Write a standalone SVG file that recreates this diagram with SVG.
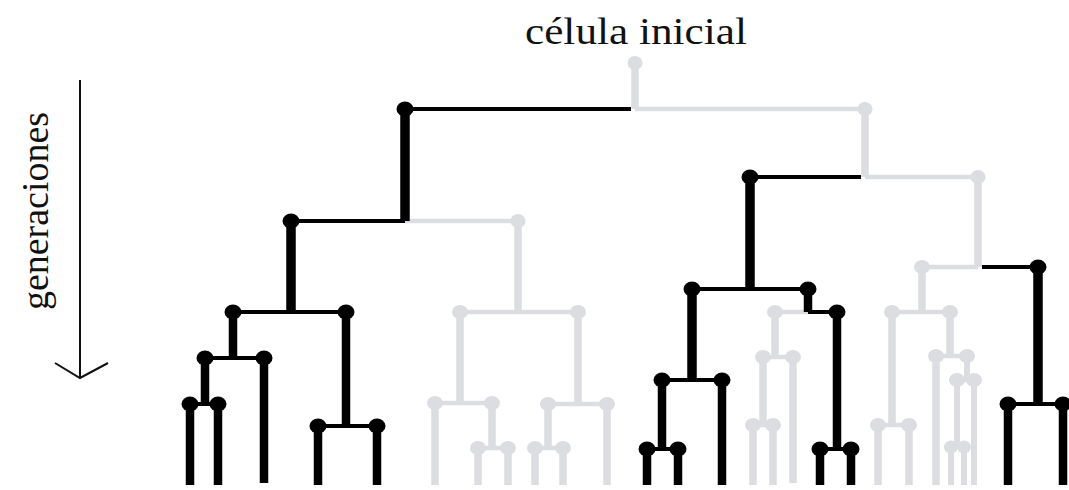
<svg xmlns="http://www.w3.org/2000/svg" width="1069" height="490" viewBox="0 0 1069 490">
<style>
.lbl{font-family:"Liberation Serif","Times New Roman",serif;font-size:37px;fill:#111}
.gv{fill:none;stroke:#dcdde0;stroke-width:7.5}
.gh{fill:none;stroke:#dcdde0;stroke-width:4.5}
.bv{fill:none;stroke:#000;stroke-width:8.5}
.bh{fill:none;stroke:#000;stroke-width:4}
.b{fill:#000}
.g{fill:#dcdde0}
.ax{fill:none;stroke:#111;stroke-width:2}
</style>
<rect width="1069" height="490" fill="#fff"/>
<text class="lbl" x="636" y="44" text-anchor="middle" textLength="222" lengthAdjust="spacingAndGlyphs">célula inicial</text>
<g id="axis">
<path class="ax" d="M80,80V378"/>
<path class="ax" d="M55,363L80,378L108,363"/>
<text class="lbl" x="48" y="211" text-anchor="middle" transform="rotate(-90 48 211)" textLength="198" lengthAdjust="spacingAndGlyphs">generaciones</text>
</g>
<g id="connectors">
<path class="gv" d="M635,63V109M518,221V312M460,312V403M435,403V485M492,403V448M478,448V485M508,448V485M578,312V404M548,404V448M535,448V485M563,448V485M607,404V485M865,109V177M978,177V267M775,312V357M763,357V425M753,425V485M773,425V485M793,357V483M922,267V312M892,312V425M878,425V485M909,425V485M950,312V356M936,356V485"/>
<path class="gv" style="stroke-width:6" d="M967,356V380M957,380V447M951,447V485M964,447V485M974,380V485"/>
<path class="gh" d="M635,109H865M405,221H518M460,312H578M435,403H492M478,448H508M548,404H607M535,448H563M865,177H978M775,312H808M763,357H793M753,425H773M922,267H978M892,312H950M878,425H909M936,356H967M957,380H974M951,447H964"/>
<path class="bh" d="M405,109H631M291,221H405M233,312H346M205,358H264M190,404H218M318,426H377M750,177H861M692,289H808M662,380H722M647,449H678M808,312H837M820,449H851M982,267H1038M1008,404H1063"/>
<path class="bv" style="stroke-width:9.5" d="M405,109V221M291,221V312M750,177V289M692,289V380M1038,267V404"/>
<path class="bv" d="M233,312V358M205,358V404M190,404V485M218,404V485M264,358V483M346,312V426M318,426V485M377,426V485M662,380V449M647,449V485M678,449V485M722,380V485M808,289V312M837,312V449M820,449V485M851,449V485M1008,404V485M1063,404V485"/>
</g>
<g id="n-root"><ellipse class="g" cx="635" cy="63" rx="7.5" ry="7"/></g>
<g id="n-A"><ellipse class="b" cx="405" cy="109" rx="8.5" ry="7.5"/></g>
<g id="n-B"><ellipse class="g" cx="865" cy="109" rx="7.5" ry="7"/></g>
<g id="n-A1"><ellipse class="b" cx="291" cy="221" rx="8.5" ry="7.5"/></g>
<g id="n-A2"><ellipse class="g" cx="518" cy="221" rx="7.5" ry="7"/></g>
<g id="n-A11"><ellipse class="b" cx="233" cy="312" rx="8.5" ry="7.5"/></g>
<g id="n-A12"><ellipse class="b" cx="346" cy="312" rx="8.5" ry="7.5"/></g>
<g id="n-A111"><ellipse class="b" cx="205" cy="358" rx="8.5" ry="7.5"/></g>
<g id="n-A112"><ellipse class="b" cx="264" cy="358" rx="8.5" ry="7.5"/></g>
<g id="n-A1111"><ellipse class="b" cx="190" cy="404" rx="8.5" ry="7.5"/></g>
<g id="n-A1112"><ellipse class="b" cx="218" cy="404" rx="8.5" ry="7.5"/></g>
<g id="n-A121"><ellipse class="b" cx="318" cy="426" rx="8.5" ry="7.5"/></g>
<g id="n-A122"><ellipse class="b" cx="377" cy="426" rx="8.5" ry="7.5"/></g>
<g id="n-A21"><ellipse class="g" cx="460" cy="312" rx="8" ry="7"/></g>
<g id="n-A22"><ellipse class="g" cx="578" cy="312" rx="8" ry="7"/></g>
<g id="n-A211"><ellipse class="g" cx="435" cy="403" rx="8" ry="7"/></g>
<g id="n-A212"><ellipse class="g" cx="492" cy="403" rx="8" ry="7"/></g>
<g id="n-A2121"><ellipse class="g" cx="478" cy="448" rx="8" ry="7"/></g>
<g id="n-A2122"><ellipse class="g" cx="508" cy="448" rx="8" ry="7"/></g>
<g id="n-A221"><ellipse class="g" cx="548" cy="404" rx="8" ry="7"/></g>
<g id="n-A222"><ellipse class="g" cx="607" cy="404" rx="8" ry="7"/></g>
<g id="n-A2211"><ellipse class="g" cx="535" cy="448" rx="8" ry="7"/></g>
<g id="n-A2212"><ellipse class="g" cx="563" cy="448" rx="8" ry="7"/></g>
<g id="n-B1"><ellipse class="b" cx="750" cy="177" rx="8.5" ry="7.5"/></g>
<g id="n-B2"><ellipse class="g" cx="978" cy="177" rx="7.5" ry="7"/></g>
<g id="n-B11"><ellipse class="b" cx="692" cy="289" rx="8.5" ry="7.5"/></g>
<g id="n-B12"><ellipse class="b" cx="808" cy="289" rx="8.5" ry="7.5"/></g>
<g id="n-B111"><ellipse class="b" cx="662" cy="380" rx="8.5" ry="7.5"/></g>
<g id="n-B112"><ellipse class="b" cx="722" cy="380" rx="8.5" ry="7.5"/></g>
<g id="n-B1111"><ellipse class="b" cx="647" cy="449" rx="8.5" ry="7.5"/></g>
<g id="n-B1112"><ellipse class="b" cx="678" cy="449" rx="8.5" ry="7.5"/></g>
<g id="n-B121"><ellipse class="g" cx="775" cy="312" rx="8" ry="7"/></g>
<g id="n-B122"><ellipse class="b" cx="837" cy="312" rx="8.5" ry="7.5"/></g>
<g id="n-B1211"><ellipse class="g" cx="763" cy="357" rx="8" ry="7"/></g>
<g id="n-B1212"><ellipse class="g" cx="793" cy="357" rx="8" ry="7"/></g>
<g id="n-B12111"><ellipse class="g" cx="753" cy="425" rx="8" ry="7"/></g>
<g id="n-B12112"><ellipse class="g" cx="773" cy="425" rx="8" ry="7"/></g>
<g id="n-B1221"><ellipse class="b" cx="820" cy="449" rx="8.5" ry="7.5"/></g>
<g id="n-B1222"><ellipse class="b" cx="851" cy="449" rx="8.5" ry="7.5"/></g>
<g id="n-B21"><ellipse class="g" cx="922" cy="267" rx="8" ry="7"/></g>
<g id="n-B22"><ellipse class="b" cx="1038" cy="267" rx="8.5" ry="7.5"/></g>
<g id="n-B221"><ellipse class="b" cx="1008" cy="404" rx="8.5" ry="7.5"/></g>
<g id="n-B222"><ellipse class="b" cx="1063" cy="404" rx="8.5" ry="7.5"/></g>
<g id="n-B211"><ellipse class="g" cx="892" cy="312" rx="8" ry="7"/></g>
<g id="n-B212"><ellipse class="g" cx="950" cy="312" rx="8" ry="7"/></g>
<g id="n-B2111"><ellipse class="g" cx="878" cy="425" rx="8" ry="7"/></g>
<g id="n-B2112"><ellipse class="g" cx="909" cy="425" rx="8" ry="7"/></g>
<g id="n-B2121"><ellipse class="g" cx="936" cy="356" rx="8" ry="7"/></g>
<g id="n-B2122"><ellipse class="g" cx="967" cy="356" rx="8" ry="7"/></g>
<g id="n-B21221"><ellipse class="g" cx="957" cy="380" rx="8" ry="7"/></g>
<g id="n-B21222"><ellipse class="g" cx="974" cy="380" rx="8" ry="7"/></g>
<g id="n-B212211"><ellipse class="g" cx="951" cy="447" rx="7" ry="6.5"/></g>
<g id="n-B212212"><ellipse class="g" cx="964" cy="447" rx="7" ry="6.5"/></g>
</svg>
